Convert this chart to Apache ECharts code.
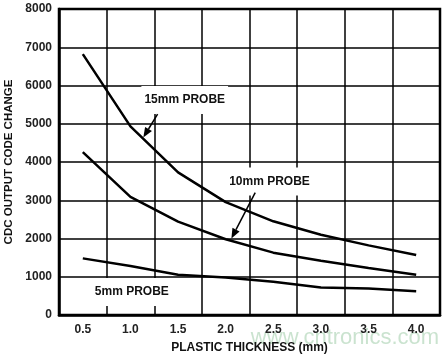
<!DOCTYPE html>
<html>
<head>
    <meta charset="utf-8"/>
    <title>CDC output vs plastic thickness</title>
    <script src="https://cdn.jsdelivr.net/npm/echarts@6/dist/echarts.min.js"></script>
    <style>
        html, body { margin: 0; padding: 0; background: #fff; }
        #chart1 { width: 443px; height: 354px; }
    </style>
</head>
<body>
<div id="chart1"></div>
<script type="text/javascript">
    // 数据
    var thickness = ['0.5', '1.0', '1.5', '2.0', '2.5', '3.0', '3.5', '4.0'];
    var probe15 = [6820, 4930, 3730, 2950, 2450, 2100, 1820, 1570];
    var probe10 = [4260, 3090, 2440, 1980, 1630, 1420, 1230, 1050];
    var probe5 = [1480, 1280, 1050, 980, 870, 720, 690, 620];
    var yTicks = [0, 1000, 2000, 3000, 4000, 5000, 6000, 7000, 8000];

    // 标注文字与箭头（数据坐标：类目序号(可带小数), 数值）
    var labels = [
        {text: '15mm PROBE', at: [2.14, 5620]},
        {text: '10mm PROBE', at: [3.92, 3490]},
        {text: '5mm PROBE', at: [1.03, 600]}
    ];
    var arrows = [
        {from: [1.57, 5250], to: [1.27, 4640]},
        {from: [3.62, 3200], to: [3.12, 2000]}
    ];

    var font = '"Liberation Sans", Arial, sans-serif';
    var myChart1 = echarts.init(document.getElementById('chart1'));

    function lineSeries(name, data) {
        return {
            name: name,
            type: 'line',
            data: data,
            symbol: 'none',
            lineStyle: {color: '#000', width: 2.5},
            z: 3
        };
    }

    myChart1.setOption({
        animation: false,
        backgroundColor: '#fff',
        grid: {
            left: 59, right: 3, top: 9, bottom: 39,
            outerBoundsMode: 'none',
            containLabel: false,
            show: true, borderColor: '#000', borderWidth: 2.5
        },
        xAxis: {
            type: 'category',
            data: thickness,
            boundaryGap: true,
            name: 'PLASTIC THICKNESS (mm)',
            nameLocation: 'middle',
            nameGap: 27,
            nameTextStyle: {fontFamily: font, fontWeight: 'bold', fontSize: 12, color: '#111'},
            axisLine: {lineStyle: {color: '#000', width: 2.5}},
            axisTick: {show: false},
            axisLabel: {fontFamily: font, fontWeight: 'bold', fontSize: 12, color: '#222', margin: 9},
            splitLine: {show: true, lineStyle: {color: '#000', width: 1.5}}
        },
        yAxis: {
            type: 'value',
            min: yTicks[0],
            max: yTicks[yTicks.length - 1],
            interval: 1000,
            name: 'CDC OUTPUT CODE CHANGE',
            nameLocation: 'middle',
            nameGap: 43,
            nameTextStyle: {fontFamily: font, fontWeight: 'bold', fontSize: 11.5, color: '#111'},
            axisLine: {show: true, lineStyle: {color: '#000', width: 2.5}},
            axisTick: {show: false},
            axisLabel: {
                fontFamily: font, fontWeight: 'bold', fontSize: 12, color: '#222', margin: 7,
                formatter: function (v) { return String(v); }
            },
            splitLine: {show: true, lineStyle: {color: '#000', width: 1.5}}
        },
        series: [
            lineSeries('15mm PROBE', probe15),
            lineSeries('10mm PROBE', probe10),
            lineSeries('5mm PROBE', probe5)
        ]
    });

    // 用坐标换算画标注（类目轴不支持小数序号，这里按相邻两个类目插值）
    var x0 = myChart1.convertToPixel({xAxisIndex: 0}, 0);
    var x1 = myChart1.convertToPixel({xAxisIndex: 0}, 1);
    function px(p) {
        var y = myChart1.convertToPixel({yAxisIndex: 0}, p[1]);
        return [x0 + (x1 - x0) * p[0], y];
    }

    var graphics = [];
    graphics.push({
        type: 'text', x: 345, y: 338, z: 0,
        style: {
            text: 'www.cntronics.com',
            font: '22px ' + font,
            fill: 'rgba(150, 200, 160, 0.5)',
            align: 'center',
            verticalAlign: 'middle'
        }
    });
    labels.forEach(function (l) {
        var p = px(l.at);
        graphics.push({
            type: 'text',
            x: p[0], y: p[1], z: 10,
            style: {
                text: l.text,
                font: 'bold 12px ' + font,
                fill: '#111',
                align: 'center',
                verticalAlign: 'middle',
                backgroundColor: '#fff',
                padding: [8, 3, 8, 3]
            }
        });
    });
    arrows.forEach(function (a) {
        var s = px(a.from), e = px(a.to);
        var dx = e[0] - s[0], dy = e[1] - s[1];
        var len = Math.sqrt(dx * dx + dy * dy);
        var ux = dx / len, uy = dy / len;
        var hl = 10, hw = 4;
        var bx = e[0] - ux * hl, by = e[1] - uy * hl;
        graphics.push({
            type: 'line', z: 10,
            shape: {x1: s[0], y1: s[1], x2: bx, y2: by},
            style: {stroke: '#000', lineWidth: 1.5}
        });
        graphics.push({
            type: 'polygon', z: 10,
            shape: {points: [[e[0], e[1]], [bx - uy * hw, by + ux * hw], [bx + uy * hw, by - ux * hw]]},
            style: {fill: '#000'}
        });
    });
    myChart1.setOption({graphic: graphics});
</script>
</body>
</html>
